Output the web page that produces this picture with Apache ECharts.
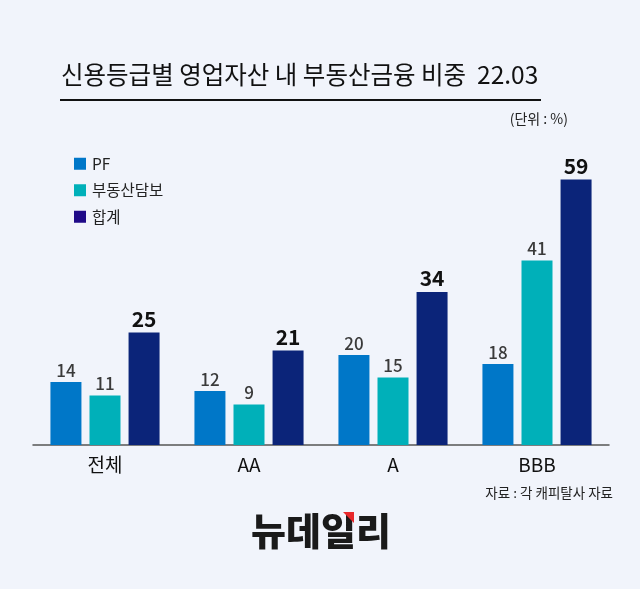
<!DOCTYPE html>
<html><head><meta charset="utf-8">
<script src="https://cdn.jsdelivr.net/npm/echarts@6/dist/echarts.min.js"></script>
<style>html,body{margin:0;padding:0;background:#f1f4fb}#c{width:640px;height:589px}</style>
</head><body><div id="c"></div>
<script>
const categories = ['전체', 'AA', 'A', 'BBB'];
const seriesNames = ['PF', '부동산담보', '합계'];
const pfValues = [14, 12, 20, 18];
const collateralValues = [11, 9, 15, 41];
const totalValues = [25, 21, 34, 59];

const FONT = '"Noto Sans CJK KR", "Noto Sans", sans-serif';
const chart = echarts.init(document.getElementById('c'), null, {renderer: 'canvas'});
const valLabel = {show: true, position: 'top', distance: 3, fontFamily: FONT, fontSize: 17, fontWeight: 500, color: '#3a3a3a'};
chart.setOption({
  backgroundColor: '#f1f4fb',
  animation: false,
  textStyle: {fontFamily: FONT},
  legend: {
    orient: 'vertical', left: 69, top: 151, itemWidth: 12, itemHeight: 12, itemGap: 11, icon: 'rect',
    textStyle: {fontFamily: FONT, fontSize: 15.5, color: '#222', padding: [0, 0, 0, 1]},
    data: [
      {name: seriesNames[0], itemStyle: {color: '#0077c8'}},
      {name: seriesNames[1], itemStyle: {color: '#00b0b9'}},
      {name: seriesNames[2], itemStyle: {color: '#1f0a88'}}
    ]
  },
  grid: {left: 33, right: 31, top: 175, height: 270},
  xAxis: {
    type: 'category', data: categories,
    axisLine: {lineStyle: {color: '#555', width: 1.5}},
    axisTick: {show: false},
    axisLabel: {fontFamily: FONT, fontSize: 19, color: '#111', margin: 10}
  },
  yAxis: {type: 'value', min: 0, max: 60, show: false, splitLine: {show: false}},
  series: [
    {name: seriesNames[0], type: 'bar', data: pfValues, barWidth: 31, barGap: '26%',
     itemStyle: {color: '#0077c8'}, label: valLabel},
    {name: seriesNames[1], type: 'bar', data: collateralValues, barWidth: 31, barGap: '26%',
     itemStyle: {color: '#00b0b9'}, label: valLabel},
    {name: seriesNames[2], type: 'bar', data: totalValues, barWidth: 31, barGap: '26%',
     itemStyle: {color: '#0b2479'},
     label: {show: true, position: 'top', distance: 3, fontFamily: FONT, fontSize: 21, fontWeight: 'bold', color: '#111'}}
  ],
  graphic: [
    {type: 'text', left: 61, top: 62, style: {text: '신용등급별 영업자산 내 부동산금융 비중  22.03', fontFamily: FONT, fontSize: 24.5, fill: '#111'}},
    {type: 'rect', shape: {x: 60, y: 99, width: 481, height: 2}, style: {fill: '#111'}},
    {type: 'text', right: 72, top: 112, style: {text: '(단위 : %)', fontFamily: FONT, fontSize: 14, fill: '#222'}},
    {type: 'text', right: 27, top: 486, style: {text: '자료 : 각 캐피탈사 자료', fontFamily: FONT, fontSize: 13.5, fill: '#222'}},
    {type: 'text', left: 251, top: 512, style: {text: '뉴데일리', fontFamily: FONT, fontSize: 38, fontWeight: 900, fill: '#1a1a1a'}},
    {type: 'polygon', shape: {points: [[343, 512], [354, 512], [354, 523]]}, style: {fill: '#e8282b'}}
  ]
});
</script></body></html>
